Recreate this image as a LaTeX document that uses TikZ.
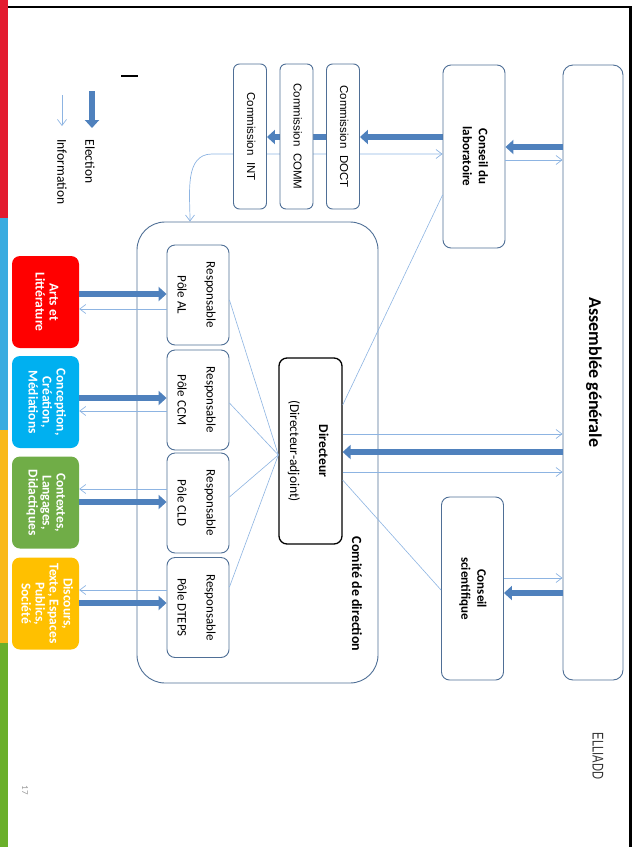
\documentclass[tikz,border=0pt]{standalone}
\usepackage{fontspec}
\usepackage{graphicx}
\usepackage{xcolor}
\usetikzlibrary{arrows.meta,backgrounds}
\setmainfont{Carlito}
\newfontfamily\arialfont{Liberation Sans}
\definecolor{boxline}{RGB}{79,111,150}
\definecolor{elec}{RGB}{79,129,189}
\definecolor{infoblue}{RGB}{141,180,226}
\definecolor{sidered}{RGB}{227,27,47}
\definecolor{sideblue}{RGB}{58,172,224}
\definecolor{sideyellow}{RGB}{249,185,26}
\definecolor{sidegreen}{RGB}{106,175,42}
\definecolor{polered}{RGB}{255,0,0}
\definecolor{poleblue}{RGB}{0,176,240}
\definecolor{polegreen}{RGB}{112,173,71}
\definecolor{poleyellow}{RGB}{255,192,0}
\newcommand{\vtext}[1]{\rotatebox{-90}{\begin{tabular}{@{}c@{}}#1\end{tabular}}}

\begin{document}
\begin{tikzpicture}[x=1pt,y=-1pt,
    box/.style={draw=boxline,line width=0.9pt,fill=white,rounded corners=8pt,inner sep=0pt},
    commission/.style={box,rounded corners=6pt,minimum width=33pt,minimum height=145pt,font=\arialfont\fontsize{11.5}{14}\selectfont},
    resp/.style={box,minimum width=62pt,minimum height=100pt,font=\fontsize{13}{29}\selectfont},
    pole/.style={fill=#1,rounded corners=8pt,inner sep=0pt,minimum width=67pt,minimum height=92pt,text=white,font=\bfseries\fontsize{13.5}{14}\selectfont},
    conseil/.style={box,minimum width=62pt,minimum height=183pt,font=\bfseries\fontsize{13}{16}\selectfont},
    election/.style={line width=5.5pt,draw=elec,-{Triangle[length=8pt,width=14pt]}},
    info/.style={line width=0.7pt,draw=infoblue,-{Straight Barb[length=6pt,width=9pt]}},
    link/.style={line width=0.6pt,draw=infoblue}]
\useasboundingbox (0,0) rectangle (640,847);

\fill[sidered] (0,0) rectangle (8,218);
\fill[sideblue] (0,218) rectangle (8,430);
\fill[sideyellow] (0,430) rectangle (8,643);
\fill[sidegreen] (0,643) rectangle (8,847);
\draw[line width=2.5pt] (8,7) -- (630.5,7) -- (630.5,847);

\node[box,rounded corners=10pt,minimum width=60pt,minimum height=615pt,font=\bfseries\fontsize{18}{20}\selectfont] (ag) at (593,372.5) {\vtext{Assemblée générale}};
\node[conseil] (labo) at (474,156.5) {\vtext{Conseil du\\laboratoire}};
\node[conseil] (sci) at (472.5,588.5) {\vtext{Conseil\\scientifique}};
\node[commission] (doct) at (343,136.5) {\vtext{Commission\ \ DOCT}};
\node[commission] (comm) at (296.5,136.5) {\vtext{Commission\ \ COMM}};
\node[commission] (int) at (250,136.5) {\vtext{Commission\ \ INT}};

\node[box,rounded corners=28pt,minimum width=241pt,minimum height=461pt] (comite) at (257.5,452.5) {};
\node[font=\bfseries\fontsize{14}{16}\selectfont] (comitelabel) at (357,594) {\rotatebox{-90}{Comité de direction}};
\node[box,draw=black,line width=1.3pt,minimum width=63pt,minimum height=186pt,font=\fontsize{13.5}{29}\selectfont] (dir) at (310.5,451) {\vtext{\textbf{Directeur}\\(Directeur-adjoint)}};

\node[resp] (rAL) at (198,295) {\vtext{Responsable\\Pôle AL}};
\node[resp] (rCCM) at (198,400) {\vtext{Responsable\\Pôle CCM}};
\node[resp] (rCLD) at (198,503) {\vtext{Responsable\\Pôle CLD}};
\node[resp] (rDTEPS) at (198,607.5) {\vtext{Responsable\\Pôle DTEPS}};

\node[pole=polered] (pAL) at (45.5,302) {\vtext{Arts et\\Littérature}};
\node[pole=poleblue] (pCCM) at (45.5,402) {\vtext{Conception,\\Création,\\Médiations}};
\node[pole=polegreen] (pCLD) at (45.5,502.5) {\vtext{Contextes,\\Langages,\\Didactiques}};
\node[pole=poleyellow] (pDTEPS) at (45.5,603.5) {\vtext{Discours,\\Texte, Espaces\\Publics,\\Société}};

\begin{scope}[on background layer]
\draw[election] (labo.west |- 0,137) -- (doct.east |- 0,137);
\draw[election] (doct.west |- 0,137) -- (int.east |- 0,137);
\draw[info,{Straight Barb[length=6pt,width=9pt]}-{Straight Barb[length=6pt,width=9pt]}] (labo.west |- 0,154) -- (212,154) to[out=180,in=90] (190,0 |- comite.north);
\end{scope}

\draw[election] (ag.west |- 0,147) -- (labo.east |- 0,147);
\draw[info] (labo.east |- 0,160) -- (ag.west |- 0,160);
\draw[election] (ag.west |- 0,593) -- (sci.east |- 0,593);
\draw[info] (sci.east |- 0,578) -- (ag.west |- 0,578);
\draw[election] (ag.west |- 0,452) -- (dir.east |- 0,452);
\draw[info] (dir.east |- 0,434) -- (ag.west |- 0,434);
\draw[info] (dir.east |- 0,472) -- (ag.west |- 0,472);
\draw[link] (dir.east |- 0,405) -- (labo.west |- 0,195);
\draw[link] (dir.east |- 0,480) -- (sci.west |- 0,590);
\draw[link] (rAL.east |- 0,300) -- (dir.west |- 0,455);
\draw[link] (rCCM.east |- 0,403) -- (dir.west |- 0,455);
\draw[link] (rCLD.east |- 0,497) -- (dir.west |- 0,455);
\draw[link] (rDTEPS.east |- 0,587) -- (dir.west |- 0,455);

\draw[election] (pAL.east |- 0,294) -- (rAL.west |- 0,294);
\draw[info] (rAL.west |- 0,309) -- (pAL.east |- 0,309);
\draw[election] (pCCM.east |- 0,398) -- (rCCM.west |- 0,398);
\draw[info] (rCCM.west |- 0,411) -- (pCCM.east |- 0,411);
\draw[election] (pCLD.east |- 0,502) -- (rCLD.west |- 0,502);
\draw[info] (rCLD.west |- 0,489) -- (pCLD.east |- 0,489);
\draw[election] (pDTEPS.east |- 0,603) -- (rDTEPS.west |- 0,603);
\draw[info] (rDTEPS.west |- 0,590) -- (pDTEPS.east |- 0,590);

\draw[line width=1.2pt] (121,76) -- (138,76);
\coordinate (elecA) at (92,91);
\coordinate (elecB) at (92,128);
\coordinate (infoA) at (62,95);
\coordinate (infoB) at (62,126);
\draw[election] (elecA) -- (elecB);
\draw[info] (infoA) -- (infoB);
\node[font=\fontsize{13.5}{16}\selectfont,anchor=north] (electxt) at (90,136) {\rotatebox{-90}{Election}};
\node[font=\fontsize{13.5}{16}\selectfont,anchor=north] (infotxt) at (62,136) {\rotatebox{-90}{Information}};

\node[font=\arialfont\fontsize{15.5}{17}\selectfont,text=black!80] (logo) at (598,756) {\rotatebox{-90}{\scalebox{0.72}[1]{ELLIADD}}};
\node[font=\fontsize{9}{10}\selectfont,text=black!40] (page) at (25,790) {\rotatebox{-90}{17}};
\end{tikzpicture}
\end{document}
